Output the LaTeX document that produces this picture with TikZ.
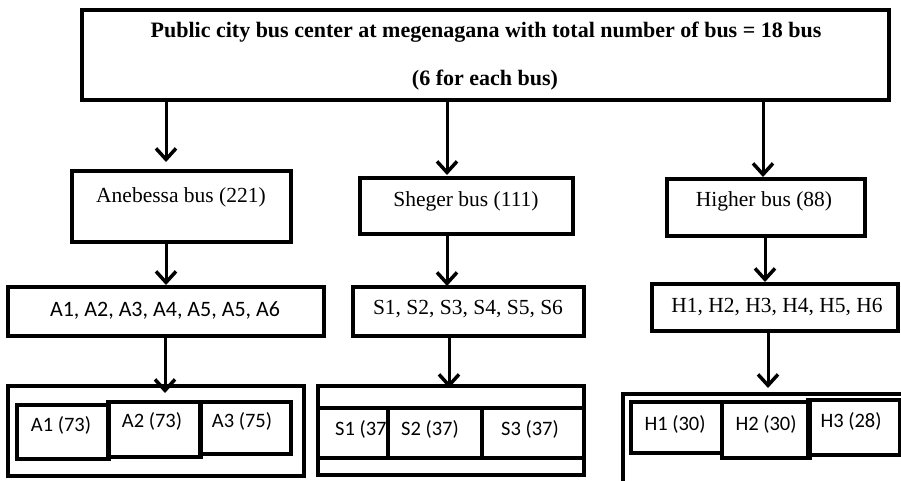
\documentclass[tikz,border=0pt]{standalone}
\usepackage{fontspec}
\setmainfont{Liberation Serif}
\newfontfamily\calfont{Carlito}
\usetikzlibrary{arrows.meta}
\begin{document}
\begin{tikzpicture}[x=1pt,y=-1pt,
  box/.style={draw, line width=3.5pt, rectangle, inner sep=0pt, outer sep=0pt},
  arr/.style={line width=3pt, -{Straight Barb[length=11pt,width=20pt,line width=3.5pt]}},
  ttl/.style={font=\fontsize{22}{26}\selectfont\bfseries, anchor=base, inner sep=0pt},
  tms/.style={font=\fontsize{21.5}{26}\selectfont, anchor=base, inner sep=0pt},
  cal/.style={font=\calfont\fontsize{22}{26}\selectfont, anchor=base, inner sep=0pt},
  cals/.style={font=\calfont\fontsize{20.5}{24}\selectfont, anchor=base, inner sep=0pt}]
\useasboundingbox (0,0) rectangle (901,480);
% boxes
\node[box, minimum width=807pt, minimum height=90pt] (top) at (485.5,55) {};
\node[box, minimum width=219pt, minimum height=71pt] (ane) at (181.5,206.5) {};
\node[box, minimum width=213pt, minimum height=56pt] (she) at (466.5,206) {};
\node[box, minimum width=198pt, minimum height=57pt] (hig) at (766,207.5) {};
\node[box, minimum width=316pt, minimum height=49pt] (arow) at (166,311.5) {};
\node[box, minimum width=231pt, minimum height=49pt] (srow) at (468.5,311.5) {};
\node[box, minimum width=246pt, minimum height=47pt] (hrow) at (775,307.5) {};
\node[box, minimum width=296pt, minimum height=90pt] (aout) at (156,431) {};
\node[box, minimum width=92pt, minimum height=54pt] (ab1) at (63,432) {};
\node[box, minimum width=93pt, minimum height=55pt] (ab2) at (154.5,429.5) {};
\node[box, minimum width=91pt, minimum height=52pt] (ab3) at (245.5,428) {};
\node[box, minimum width=266pt, minimum height=89pt] (sout) at (451,430.5) {};
\node[box, minimum width=70pt, minimum height=50pt] (sb1) at (353,433) {};
\node[box, minimum width=94pt, minimum height=50pt] (sb2) at (435,433) {};
\node[box, minimum width=102pt, minimum height=50pt] (sb3) at (533,433) {};
\node[box, minimum width=300pt, minimum height=96pt] (hout) at (773,442) {};
\node[box, minimum width=91pt, minimum height=51pt] (hb1) at (676.5,427.5) {};
\node[box, minimum width=88pt, minimum height=56pt] (hb2) at (766,430) {};
\node[box, minimum width=92pt, minimum height=55pt] (hb3) at (854,427.5) {};
% texts
\node[ttl] (t1) at (486,37) {Public city bus center at megenagana with total number of bus = 18 bus};
\node[ttl] (t2) at (485,85) {(6 for each bus)};
\node[tms] (tane) at (181,202) {Anebessa bus (221)};
\node[tms] (tshe) at (466,206) {Sheger bus (111)};
\node[tms] (thig) at (764,206) {Higher bus (88)};
\node[cal] (tarow) at (165,316) {A1, A2, A3, A4, A5, A5, A6};
\node[tms] (tsrow) at (468,314) {S1, S2, S3, S4, S5, S6};
\node[tms] (throw) at (777,312) {H1, H2, H3, H4, H5, H6};
\node[cals] (ta1) at (61,431) {A1 (73)};
\node[cals] (ta2) at (152,427) {A2 (73)};
\node[cals] (ta3) at (242,427) {A3 (75)};
\node[cals, anchor=base west] (ts1) at (335,435) {S1 (37};
\node[cals] (ts2) at (430,435) {S2 (37)};
\node[cals] (ts3) at (530,435) {S3 (37)};
\node[cals] (th1) at (675,430) {H1 (30)};
\node[cals] (th2) at (766,430) {H2 (30)};
\node[cals] (th3) at (851,427) {H3 (28)};
% arrow columns
\coordinate (xa) at (166,0);
\coordinate (xs) at (447,0);
\coordinate (xh) at (763,0);
\coordinate (xa2) at (165,0);
\coordinate (xs2) at (449,0);
\coordinate (xh2) at (765,0);
\coordinate (xh3) at (768,0);
\draw[arr, shorten >=9pt] (top.south -| xa) -- (ane.north -| xa);
\draw[arr, shorten >=3pt] (top.south -| xs) -- (she.north -| xs);
\draw[arr, shorten >=2pt] (top.south -| xh) -- (hig.north -| xh);
\draw[arr, shorten >=2pt] (ane.south -| xa) -- (arow.north -| xa);
\draw[arr, shorten >=1pt] (she.south -| xs) -- (srow.north -| xs);
\draw[arr, shorten >=2pt] (hig.south -| xh2) -- (hrow.north -| xh2);
\draw[arr, shorten >=-7pt] (arow.south -| xa2) -- (aout.north -| xa2);
\draw[arr, shorten >=-2pt] (srow.south -| xs2) -- (sout.north -| xs2);
\draw[arr, shorten >=6pt] (hrow.south -| xh3) -- (hout.north -| xh3);
\end{tikzpicture}
\end{document}
